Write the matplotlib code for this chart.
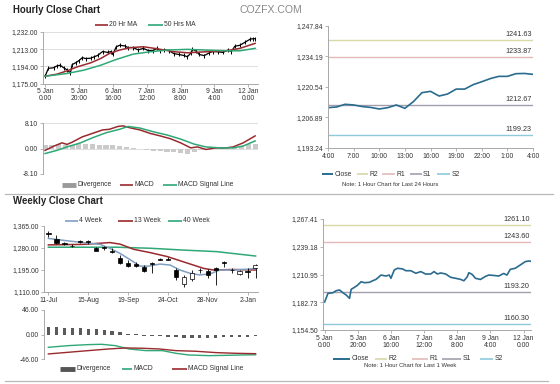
import matplotlib
matplotlib.use('Agg')
import matplotlib.pyplot as plt
from matplotlib.lines import Line2D

plt.rcParams['font.family'] = ['Liberation Sans', 'DejaVu Sans']

# ---------------- data ----------------
# hourly close, last week (hours since 5 Jan 0:00, trading hours)
close_hours = [0, 2, 5, 7, 9, 11, 13, 15, 16, 18, 20, 22, 24, 27, 29, 31, 34, 37, 39, 40,
               42, 44, 47, 49, 52, 55, 58, 61, 64, 66, 68, 70, 73, 76, 79, 82, 84, 86, 87, 89,
               91, 94, 97, 99, 102, 105, 108, 110, 112, 115, 118, 121, 123, 124]
close_vals = [1183.0, 1191.8, 1192.4, 1194.5, 1195.2, 1192.4, 1190.1, 1186.7, 1195.9, 1197.9,
              1200.3, 1203.6, 1202.6, 1203.0, 1204.6, 1206.0, 1210.4, 1209.4, 1210.4, 1207.1,
              1215.5, 1217.3, 1216.6, 1214.8, 1214.8, 1212.2, 1213.9, 1211.4, 1211.5, 1213.9,
              1211.5, 1212.5, 1211.5, 1208.1, 1207.1, 1206.0, 1204.6, 1208.5, 1212.8, 1211.0,
              1207.1, 1205.9, 1209.0, 1210.4, 1210.0, 1209.4, 1212.0, 1210.4, 1216.2, 1217.3,
              1220.6, 1224.0, 1224.7, 1224.5]
ma20_hours = [0, 7, 13, 19, 27, 33, 38, 44, 50, 58, 66, 76, 84, 95, 107, 115, 124]
ma20_vals = [1183.1, 1185.3, 1189.0, 1193.4, 1197.9, 1202.8, 1208.3, 1212.0, 1214.6, 1215.7,
             1213.5, 1210.2, 1209.0, 1210.1, 1211.2, 1213.9, 1219.4]
ma50_hours = [0, 13, 23, 33, 42, 52, 62, 72, 84, 95, 107, 115, 124]
ma50_vals = [1183.0, 1186.1, 1189.8, 1195.3, 1201.6, 1207.5, 1210.1, 1212.0, 1212.8, 1212.0,
             1211.2, 1211.2, 1213.9]
hour_ticks = [0, 20, 40, 60, 80, 100, 120]
hour_labels = ['5 Jan\n0:00', '5 Jan\n20:00', '6 Jan\n16:00', '7 Jan\n12:00',
               '8 Jan\n8:00', '9 Jan\n4:00', '12 Jan\n0:00']

macd_h_hours = [0, 5, 10, 13, 16, 22, 28, 34, 38, 43, 46, 50, 56, 62, 68, 74, 80, 86, 90,
                95, 101, 107, 111, 117, 124]
macd_h_vals = [-0.6, 0.7, 1.8, 1.3, 2.0, 3.7, 4.8, 5.9, 6.1, 7.0, 7.2, 6.6, 5.9, 4.8, 4.0,
               3.1, 1.8, 0.2, 0.5, -0.3, 0.2, 0.2, 0.5, 1.8, 4.0]
sig_h_hours = [0, 7, 13, 21, 28, 36, 44, 49, 56, 64, 72, 80, 88, 95, 103, 111, 117, 124]
sig_h_vals = [-1.6, -0.6, 0.5, 1.8, 3.4, 5.0, 6.1, 7.0, 6.5, 5.3, 4.3, 3.0, 1.4, 0.5, 0.2,
              0.2, 0.8, 2.4]
div_h_hours = [0, 4, 8, 12, 16, 20, 24, 28, 32, 36, 40, 44, 48, 52, 56, 60, 64, 68, 72, 76,
               80, 84, 88, 92, 96, 100, 104, 108, 112, 116, 120, 124]
div_h_vals = [1.0, 1.2, 1.4, 1.0, 1.2, 1.5, 1.5, 1.4, 1.2, 1.1, 1.0, 0.8, 0.4, 0.2, -0.3,
              -0.5, -0.7, -0.9, -1.0, -1.2, -1.4, -1.6, -1.2, -0.6, -0.2, 0.1, 0.2, 0.3,
              0.5, 0.9, 1.3, 1.5]

# last 24 hours close
day_hours = list(range(25))
day_close = [1211.3, 1211.6, 1212.8, 1212.5, 1211.8, 1211.4, 1210.7, 1211.3, 1212.5, 1211.0,
             1214.0, 1218.0, 1218.6, 1216.5, 1217.4, 1219.6, 1219.6, 1221.6, 1222.9, 1224.3,
             1225.3, 1225.3, 1226.5, 1226.6, 1226.2]
day_ticks = [0, 3, 6, 9, 12, 15, 18, 21, 24]
day_labels = ['4:00', '7:00', '10:00', '13:00', '16:00', '19:00', '22:00', '1:00', '4:00']
day_levels = {'R2': 1241.63, 'R1': 1233.87, 'S1': 1212.67, 'S2': 1199.23}
day_yticks = [1193.24, 1206.89, 1220.54, 1234.19, 1247.84]

week_levels = {'R2': 1261.10, 'R1': 1243.60, 'S1': 1193.20, 'S2': 1160.30}
week_yticks = [1154.50, 1182.73, 1210.95, 1239.18, 1267.41]

# weekly candles
wk_idx = list(range(27))
wk_open = [1338, 1313, 1299, 1289, 1306, 1306, 1280, 1283, 1267, 1240, 1223, 1220, 1208, 1222,
           1237, 1237, 1195, 1141, 1159, 1196, 1190, 1201, 1224, 1196, 1178, 1190, 1201]
wk_high = [1345, 1330, 1304, 1294, 1310, 1310, 1283, 1288, 1279, 1253, 1233, 1227, 1214, 1224,
           1242, 1246, 1201, 1176, 1195, 1204, 1197, 1207, 1231, 1201, 1196, 1201, 1220]
wk_low = [1324, 1296, 1292, 1283, 1298, 1296, 1268, 1274, 1259, 1220, 1207, 1207, 1188, 1183,
          1233, 1233, 1156, 1131, 1154, 1185, 1166, 1137, 1207, 1183, 1174, 1166, 1166]
wk_close = [1336, 1300, 1297, 1287, 1302, 1302, 1270, 1281, 1265, 1223, 1210, 1210, 1191, 1220,
            1235, 1235, 1167, 1169, 1185, 1194, 1175, 1196, 1222, 1194, 1192, 1188, 1214]
ma4_idx = [0, 2.3, 4.4, 6.5, 7.7, 9.0, 10.3, 11.5, 12.6, 14.0, 15.3, 16.5, 17.8, 19.0, 20.3,
           21.5, 23.2, 24.9, 26]
ma4_vals = [1317, 1308, 1301, 1294, 1279, 1259, 1234, 1210, 1210, 1218, 1214, 1195, 1182,
            1176, 1180, 1195, 1195, 1198, 1201]
ma13_idx = [0, 4.4, 7.7, 9.0, 10.7, 12.8, 14.9, 16.5, 18.2, 19.5, 20.7, 23.2, 26]
ma13_vals = [1292, 1294, 1301, 1295, 1275, 1262, 1247, 1231, 1214, 1201, 1195, 1197, 1195]
ma40_idx = [0, 4.4, 8.6, 12.8, 16.9, 21.1, 26]
ma40_vals = [1283, 1283, 1283, 1279, 1272, 1266, 1249]
wk_ticks = [0, 5, 10, 15, 20, 25]
wk_labels = ['11-Jul', '15-Aug', '19-Sep', '24-Oct', '28-Nov', '2-Jan']
wk_yticks = [1110, 1195, 1280, 1365]

macd_w_idx = [0, 2.5, 5.0, 6.7, 8.4, 10.1, 12.2, 14.3, 16, 17.6, 20.2, 22.7, 24.4, 26]
macd_w_vals = [-23.6, -20.5, -18.6, -18.0, -20.5, -26.7, -29.8, -29.8, -34.8, -37.9, -39.2,
               -38.5, -37.9, -37.5]
sig_w_idx = [0, 2.5, 5.0, 7.6, 9.7, 11.8, 13.9, 16, 18.5, 21, 23.5, 26]
sig_w_vals = [-36.0, -32.9, -29.8, -26.7, -24.8, -25.4, -26.7, -29.8, -31.0, -33.5, -34.8, -35.5]
div_w_vals = [15, 13.5, 12.4, 11.8, 11.8, 11, 10, 8.7, 7.5, 4.3, 0.8, 0.6, -3, -3, -3, -3.5,
              -5, -6, -6, -6, -6, -6, -5, -4, -4, -3.5, -3]

# ---------------- styling ----------------
W, H = 560, 384
fig = plt.figure(figsize=(W / 100, H / 100), dpi=100)
fig.patch.set_facecolor('white')

TXT = '#333333'
SP = '#a8a8a8'
FS = 4.9
RED = '#9a2a2e'
GREEN = '#2fa877'
BLUE4 = '#7e9fc2'
CLOSE = '#2a6b8e'
LVL_COL = {'R2': '#d8d8a8', 'R1': '#e2baba', 'S1': '#a39fae', 'S2': '#8ec9da'}


def fx(x):
    return x / W


def fy(y):
    return 1 - y / H


def px_axes(x0, y0, x1, y1):
    return fig.add_axes([x0 / W, 1 - y1 / H, (x1 - x0) / W, (y1 - y0) / H])


def style(ax, left=True, bottom=True):
    for s in ['top', 'right']:
        ax.spines[s].set_visible(False)
    ax.spines['left'].set_visible(left)
    ax.spines['bottom'].set_visible(bottom)
    for s in ['left', 'bottom']:
        ax.spines[s].set_color(SP)
        ax.spines[s].set_linewidth(0.7)
    ax.tick_params(axis='both', labelsize=FS, labelcolor=TXT, color=SP,
                   length=2, width=0.6, pad=1.5)
    ax.set_facecolor('white')


def leg_line(x0, x1, y, color, lw, label):
    fig.add_artist(Line2D([fx(x0), fx(x1)], [fy(y), fy(y)], transform=fig.transFigure,
                          color=color, lw=lw, solid_capstyle='butt'))
    fig.text(fx(x1 + 1.2), fy(y), label, fontsize=FS, color=TXT, va='center', ha='left')


def money(v):
    return '{:,.2f}'.format(v)


# ---------------- titles ----------------
fig.text(fx(13), fy(10), 'Hourly Close Chart', fontsize=6.9, fontweight='bold',
         color='#222222', va='center', ha='left')
fig.text(fx(271), fy(10), 'COZFX.COM', fontsize=7.6, color='#8a8a8a', va='center', ha='center')
fig.text(fx(13), fy(201), 'Weekly Close Chart', fontsize=6.9, fontweight='bold',
         color='#222222', va='center', ha='left')

for ysep, x1 in [(194, 553), (381, 548)]:
    fig.add_artist(Line2D([fx(5), fx(x1)], [fy(ysep), fy(ysep)], transform=fig.transFigure,
                          color='#b8b8b8', lw=0.9))

# ---------------- hourly price chart ----------------
ax1 = px_axes(43, 32, 258, 83.5)
style(ax1)
ax1.set_xlim(-1.2, 125.7)
ax1.set_ylim(1175, 1232)
ax1.set_yticks([1175, 1194, 1213, 1232])
ax1.set_yticklabels([money(v) for v in [1175, 1194, 1213, 1232]])
ax1.yaxis.grid(True, color='#d9d9d9', lw=0.6)
ax1.set_axisbelow(True)
ax1.set_xticks(hour_ticks)
ax1.set_xticklabels(hour_labels, linespacing=1.0)
ax1.plot(close_hours, close_vals, color='black', lw=0.9, marker='|', ms=3, mew=0.7)
ax1.plot(ma20_hours, ma20_vals, color=RED, lw=1.1)
ax1.plot(ma50_hours, ma50_vals, color=GREEN, lw=1.1)

leg_line(95, 108, 25, RED, 1.2, '20 Hr MA')
leg_line(148, 163, 25, GREEN, 1.2, '50 Hrs MA')

# ---------------- hourly MACD ----------------
ax2 = px_axes(43, 123, 258, 174)
style(ax2, bottom=False)
ax2.set_xlim(-1.2, 125.7)
ax2.set_ylim(-8.1, 8.1)
ax2.set_yticks([-8.1, 0, 8.1])
ax2.set_yticklabels(['-8.10', '0.00', '8.10'])
ax2.yaxis.grid(True, color='#d9d9d9', lw=0.6)
ax2.set_axisbelow(True)
ax2.set_xticks([])
ax2.bar(div_h_hours, div_h_vals, width=3.0, color='#cacaca')
ax2.plot(macd_h_hours, macd_h_vals, color=RED, lw=1.1)
ax2.plot(sig_h_hours, sig_h_vals, color=GREEN, lw=1.1)

leg_line(62, 76, 185, '#9a9a9a', 3.5, 'Divergence')
leg_line(120, 133, 185, RED, 1.2, 'MACD')
leg_line(163, 177, 185, GREEN, 1.2, 'MACD Signal Line')

# ---------------- 24h close chart ----------------
ax3 = px_axes(328, 26, 533, 148)
style(ax3)
ax3.set_xlim(0, 24)
ax3.set_ylim(1193.24, 1247.84)
ax3.set_yticks(day_yticks)
ax3.set_yticklabels([money(v) for v in day_yticks])
ax3.set_xticks(day_ticks)
ax3.set_xticklabels(day_labels)
for k in ['R2', 'R1', 'S1', 'S2']:
    ax3.axhline(day_levels[k], color=LVL_COL[k], lw=1.0)
    ax3.annotate('{:.2f}'.format(day_levels[k]), xy=(24, day_levels[k]), xytext=(-1, 1.5),
                 textcoords='offset points', ha='right', va='bottom', fontsize=5.2, color=TXT)
ax3.plot(day_hours, day_close, color=CLOSE, lw=1.2)

leg_line(322, 333, 174, CLOSE, 1.4, 'Close')
leg_line(357, 368, 174, LVL_COL['R2'], 1.2, 'R2')
leg_line(382, 395, 174, LVL_COL['R1'], 1.2, 'R1')
leg_line(410, 421.5, 174, LVL_COL['S1'], 1.2, 'S1')
leg_line(437, 450, 174, LVL_COL['S2'], 1.2, 'S2')
fig.text(fx(390), fy(184.3), 'Note: 1 Hour Chart for Last 24 Hours', fontsize=4.2,
         color=TXT, ha='center', va='center')

# ---------------- weekly candles ----------------
ax4 = px_axes(44, 226, 258, 292)
style(ax4)
ax4.set_xlim(-0.55, 26.3)
ax4.set_ylim(1110, 1365)
ax4.set_yticks(wk_yticks)
ax4.set_yticklabels([money(v) for v in wk_yticks])
ax4.set_xticks(wk_ticks)
ax4.set_xticklabels(wk_labels)
ax4.plot(ma40_idx, ma40_vals, color=GREEN, lw=1.1, zorder=2)
ax4.plot(ma13_idx, ma13_vals, color=RED, lw=1.1, zorder=2)
ax4.plot(ma4_idx, ma4_vals, color=BLUE4, lw=1.1, zorder=2)
ax4.vlines(wk_idx, wk_low, wk_high, color='black', lw=0.6, zorder=3)
for i, o, c in zip(wk_idx, wk_open, wk_close):
    lo, hi = min(o, c), max(o, c)
    face = 'black' if c < o else 'white'
    ax4.bar(i, max(hi - lo, 1.5), bottom=lo, width=0.55, color=face, edgecolor='black',
            lw=0.5, zorder=4)

leg_line(65, 78, 221, BLUE4, 1.2, '4 Week')
leg_line(118, 133, 221, RED, 1.2, '13 Week')
leg_line(168, 182, 221, GREEN, 1.2, '40 Week')

# ---------------- weekly MACD ----------------
ax5 = px_axes(44, 310, 258, 359.3)
style(ax5, bottom=False)
ax5.set_xlim(-0.55, 26.3)
ax5.set_ylim(-46, 46)
ax5.set_yticks([-46, 0, 46])
ax5.set_yticklabels(['-46.00', '0.00', '46.00'])
ax5.set_xticks([])
ax5.bar(wk_idx, div_w_vals, width=0.42, color='#5a5a5a')
ax5.plot(macd_w_idx, macd_w_vals, color=GREEN, lw=1.0)
ax5.plot(sig_w_idx, sig_w_vals, color=RED, lw=1.0)

leg_line(60, 75, 369, '#555555', 3.5, 'Divergence')
leg_line(122, 132, 369, GREEN, 1.2, 'MACD')
leg_line(172, 187, 369, RED, 1.2, 'MACD Signal Line')

# ---------------- week close chart ----------------
ax6 = px_axes(323, 219, 531, 330)
style(ax6)
ax6.set_xlim(-1.0, 124.5)
ax6.set_ylim(1154.50, 1267.41)
ax6.set_yticks(week_yticks)
ax6.set_yticklabels([money(v) for v in week_yticks])
ax6.set_xticks(hour_ticks)
ax6.set_xticklabels(hour_labels, linespacing=1.0)
for k in ['R2', 'R1', 'S1', 'S2']:
    ax6.axhline(week_levels[k], color=LVL_COL[k], lw=1.0)
    ax6.annotate('{:.2f}'.format(week_levels[k]), xy=(124.5, week_levels[k]), xytext=(-1, 1.5),
                 textcoords='offset points', ha='right', va='bottom', fontsize=5.2, color=TXT)
ax6.plot(close_hours, close_vals, color=CLOSE, lw=1.2)

leg_line(333, 350, 359, CLOSE, 1.4, 'Close')
leg_line(375, 387, 359, LVL_COL['R2'], 1.2, 'R2')
leg_line(412, 428, 359, LVL_COL['R1'], 1.2, 'R1')
leg_line(442, 461, 359, LVL_COL['S1'], 1.2, 'S1')
leg_line(480, 493, 359, LVL_COL['S2'], 1.2, 'S2')
fig.text(fx(410), fy(365.3), 'Note: 1 Hour Chart for Last 1 Week', fontsize=4.2,
         color=TXT, ha='center', va='center')

fig.savefig('out.png', dpi=100, facecolor='white')
